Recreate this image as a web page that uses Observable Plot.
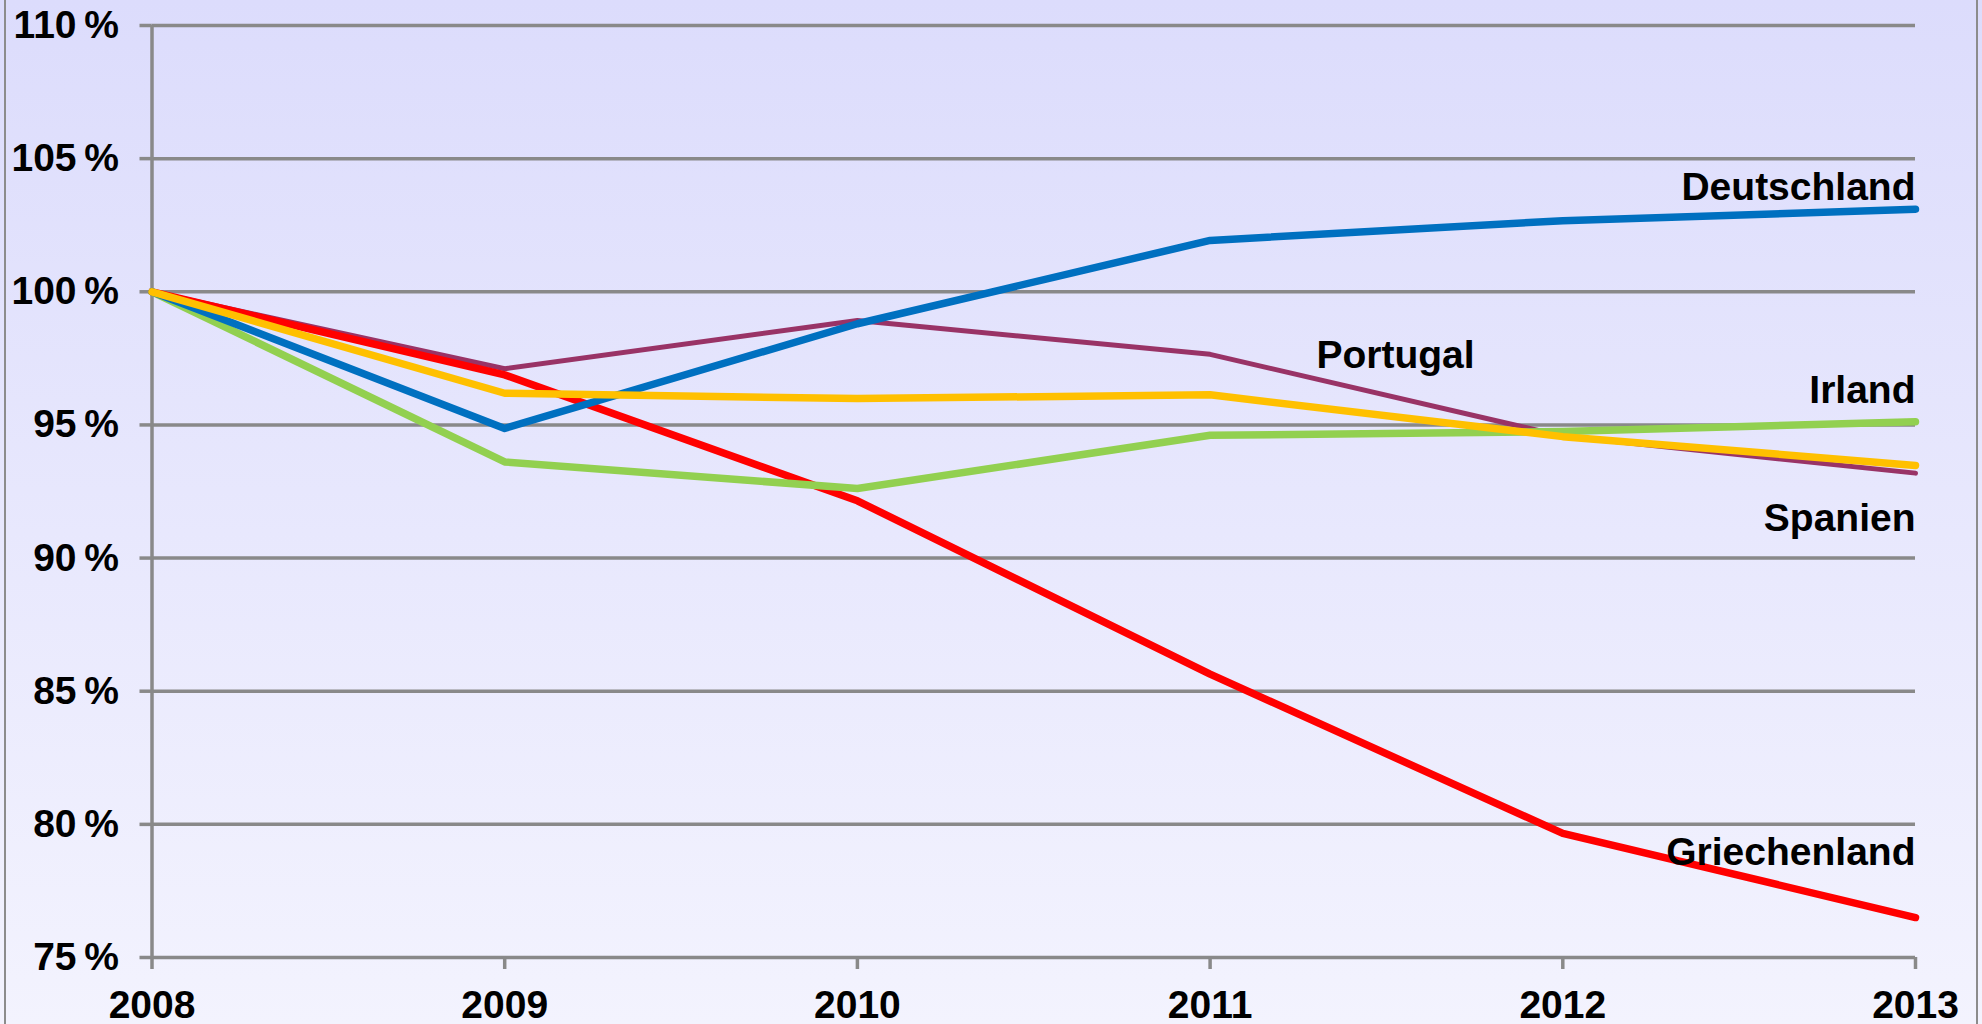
<!DOCTYPE html>
<html><head><meta charset="utf-8">
<script src="https://cdn.jsdelivr.net/npm/d3@7"></script>
<script src="https://cdn.jsdelivr.net/npm/@observablehq/plot@0.6"></script>
<style>
html,body{margin:0;padding:0;width:1982px;height:1024px;overflow:hidden;background:linear-gradient(to bottom,#dcdcfc 0%,#f3f3fe 100%);}
#frame{position:absolute;left:4px;top:-10px;width:1974px;height:1044px;border:2px solid #8c8c8c;box-sizing:border-box;pointer-events:none;}
#chart{position:absolute;left:0;top:0;}
</style></head><body>
<div id="chart"></div><div id="frame"></div>
<script>
const years = [2008, 2009, 2010, 2011, 2012, 2013];
const deutschland = [100, 94.87, 98.8, 101.93, 102.67, 103.1];
const griechenland = [100, 96.88, 92.15, 85.64, 79.66, 76.5];
const irland = [100, 93.61, 92.61, 94.61, 94.75, 95.12];
const spanien = [100, 96.19, 95.99, 96.13, 94.56, 93.48];
const portugal = [100, 97.11, 98.92, 97.65, 94.58, 93.19];
const yTicks = [75, 80, 85, 90, 95, 100, 105, 110];

const seriesNames = ["Portugal", "Griechenland", "Irland", "Deutschland", "Spanien"];
const seriesValues = [portugal, griechenland, irland, deutschland, spanien];
const seriesColors = ["#993366", "#ff0000", "#92d050", "#0070c0", "#ffc000"];
const seriesWidths = [5, 7.5, 7.5, 7.5, 7.5];

// label anchors in data units (year, percent)
const labelNames = ["Deutschland", "Portugal", "Irland", "Spanien", "Griechenland"];
const labelYears = [2013, 2011.75, 2013, 2013, 2013];
const labelValues = [103.43, 97.12, 95.81, 91.0, 78.46];

const labels = labelNames.map((t, i) => ({text: t, year: labelYears[i], value: labelValues[i]}));

const lineMarks = seriesNames.map((name, i) =>
  Plot.line(years.map((y, j) => ({year: y, value: seriesValues[i][j], country: name})), {
    x: "year", y: "value",
    stroke: seriesColors[i], strokeWidth: seriesWidths[i],
    strokeLinecap: "round", strokeLinejoin: "round"
  })
);

const grid = "#898989";
const chart = Plot.plot({
  width: 1982, height: 1024,
  marginLeft: 151.5, marginRight: 67, marginTop: 25, marginBottom: 67,
  style: {background: "transparent", fontFamily: "'Liberation Sans', Arial, sans-serif", fontWeight: "bold", fontSize: "39px", color: "#000"},
  x: {domain: [2008, 2013]},
  y: {domain: [75, 110]},
  marks: [
    Plot.gridY(yTicks, {stroke: grid, strokeOpacity: 1, strokeWidth: 3.5}),
    Plot.ruleX([2008], {y1: 75, y2: 110, stroke: grid, strokeWidth: 3.5}),
    Plot.axisY(yTicks, {tickSize: 12, tickPadding: 21, stroke: grid, strokeWidth: 3.5, fill: "#000",
      tickFormat: d => d + "\u2009%", fontSize: 39, fontWeight: "bold", label: null}),
    Plot.axisX(years, {tickSize: 12, tickPadding: 21, stroke: grid, strokeWidth: 3.5, fill: "#000",
      tickFormat: d => String(d), fontSize: 39, fontWeight: "bold", label: null}),
    ...lineMarks,
    Plot.text(labels, {x: "year", y: "value", text: "text", textAnchor: "end", lineAnchor: "bottom",
      fill: "#000", fontSize: 39, fontWeight: "bold"})
  ]
});
document.getElementById("chart").appendChild(chart);
</script>
</body></html>
